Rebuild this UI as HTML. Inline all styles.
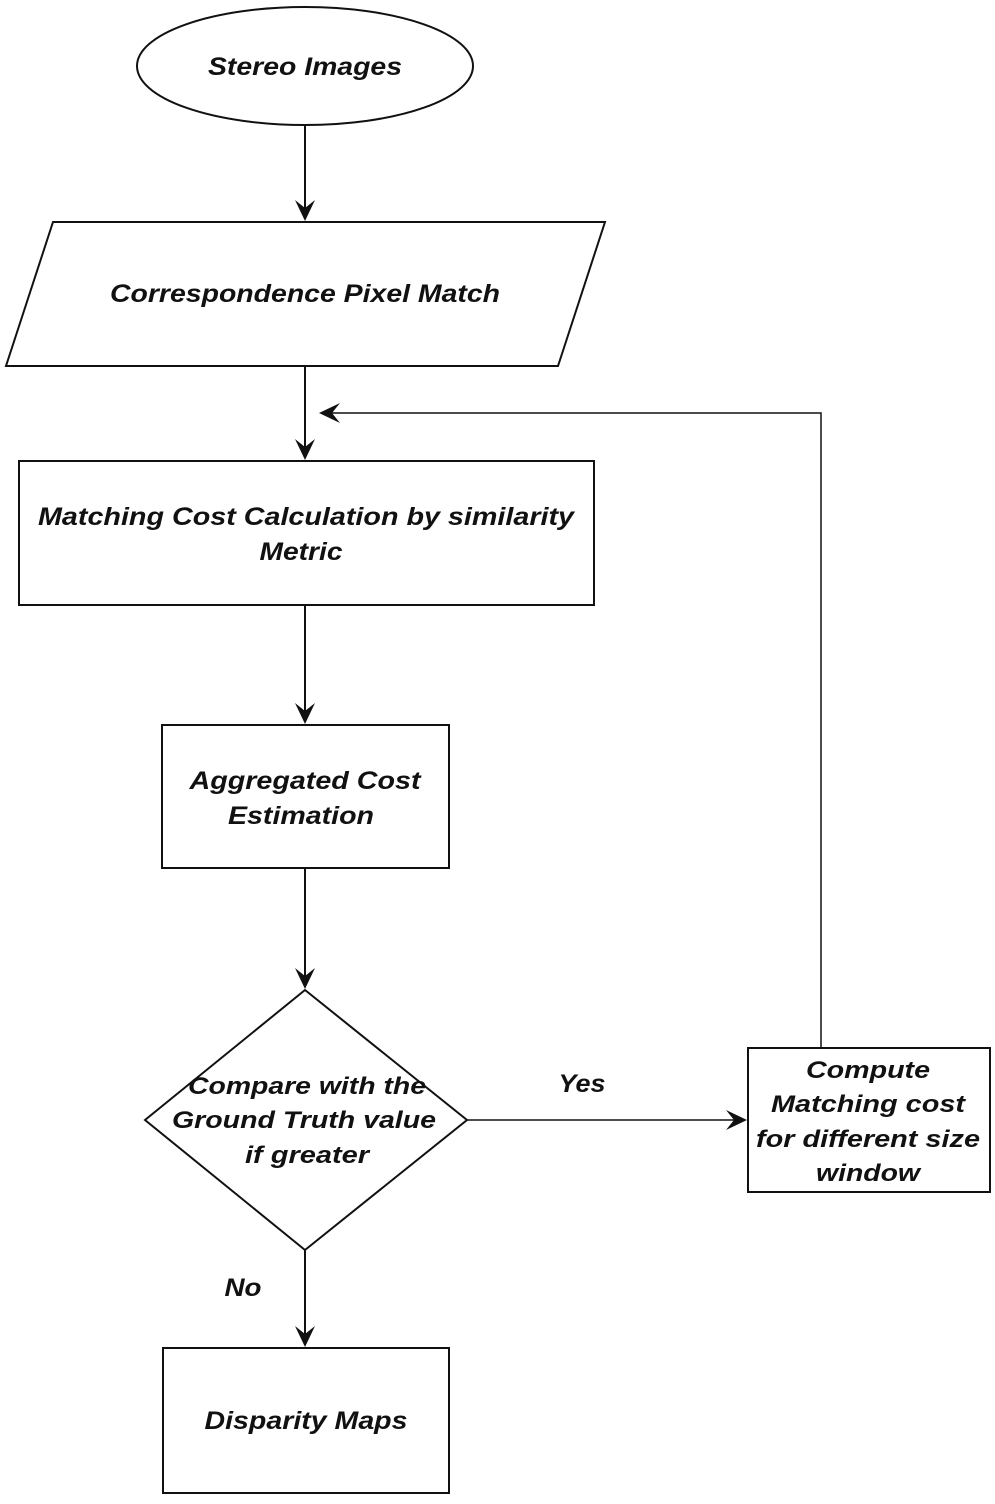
<!DOCTYPE html>
<html><head><style>
html,body{margin:0;padding:0;background:#fff;}
svg text{font-family:"Liberation Sans",sans-serif;font-style:italic;font-weight:bold;fill:#111;text-anchor:middle;}
</style></head><body>
<svg width="995" height="1499" viewBox="0 0 995 1499" xmlns="http://www.w3.org/2000/svg">
<g stroke="#111" stroke-width="2" fill="none">
<ellipse cx="305" cy="66" rx="168" ry="59"/>
<polygon points="53,222 605,222 558,366 6,366"/>
<rect x="19" y="461" width="575" height="144"/>
<rect x="162" y="725" width="287" height="143"/>
<polygon points="305,990 467,1120 305,1250 145,1120"/>
<rect x="748" y="1048" width="242" height="144"/>
<rect x="163" y="1348" width="286" height="145"/>
<line x1="305" y1="126" x2="305" y2="212"/>
<line x1="305" y1="366" x2="305" y2="452"/>
<line x1="305" y1="605" x2="305" y2="716"/>
<line x1="305" y1="868" x2="305" y2="981"/>
<line x1="305" y1="1250" x2="305" y2="1339"/>
<line x1="467" y1="1120" x2="738" y2="1120" stroke-width="1.5"/>
<polyline points="821,1048 821,413 330,413" stroke-width="1.5"/>
</g>
<g fill="#111">
<path d="M295,200 L305,221 L315,200 L305,208 Z"/>
<path d="M295,439 L305,460 L315,439 L305,447 Z"/>
<path d="M295,703 L305,724 L315,703 L305,711 Z"/>
<path d="M295,968 L305,989 L315,968 L305,976 Z"/>
<path d="M295,1326 L305,1347 L315,1326 L305,1334 Z"/>
<path d="M726,1110 L747,1120 L726,1130 L734,1120 Z"/>
<path d="M340,403 L319,413 L340,423 L332,413 Z"/>
</g>
<text x="305" y="75" font-size="25" textLength="194" lengthAdjust="spacingAndGlyphs">Stereo Images</text>
<text x="305" y="302" font-size="25" textLength="390" lengthAdjust="spacingAndGlyphs">Correspondence Pixel Match</text>
<text x="306" y="525" font-size="25" textLength="536" lengthAdjust="spacingAndGlyphs">Matching Cost Calculation by similarity</text>
<text x="301" y="560" font-size="25" textLength="83" lengthAdjust="spacingAndGlyphs">Metric</text>
<text x="305" y="789" font-size="25" textLength="231" lengthAdjust="spacingAndGlyphs">Aggregated Cost</text>
<text x="301" y="824" font-size="25" textLength="146" lengthAdjust="spacingAndGlyphs">Estimation</text>
<text x="307" y="1094" font-size="24" textLength="238" lengthAdjust="spacingAndGlyphs">Compare with the</text>
<text x="304" y="1128" font-size="24" textLength="264" lengthAdjust="spacingAndGlyphs">Ground Truth value</text>
<text x="307" y="1163" font-size="24" textLength="124" lengthAdjust="spacingAndGlyphs">if greater</text>
<text x="582" y="1092" font-size="25" textLength="47" lengthAdjust="spacingAndGlyphs">Yes</text>
<text x="243" y="1296" font-size="25" textLength="37" lengthAdjust="spacingAndGlyphs">No</text>
<text x="868" y="1078" font-size="24" textLength="124" lengthAdjust="spacingAndGlyphs">Compute</text>
<text x="868" y="1112" font-size="24" textLength="194" lengthAdjust="spacingAndGlyphs">Matching cost</text>
<text x="868" y="1147" font-size="24" textLength="224" lengthAdjust="spacingAndGlyphs">for different size</text>
<text x="868" y="1181" font-size="24" textLength="104" lengthAdjust="spacingAndGlyphs">window</text>
<text x="306" y="1429" font-size="25" textLength="203" lengthAdjust="spacingAndGlyphs">Disparity Maps</text>
</svg>
</body></html>
